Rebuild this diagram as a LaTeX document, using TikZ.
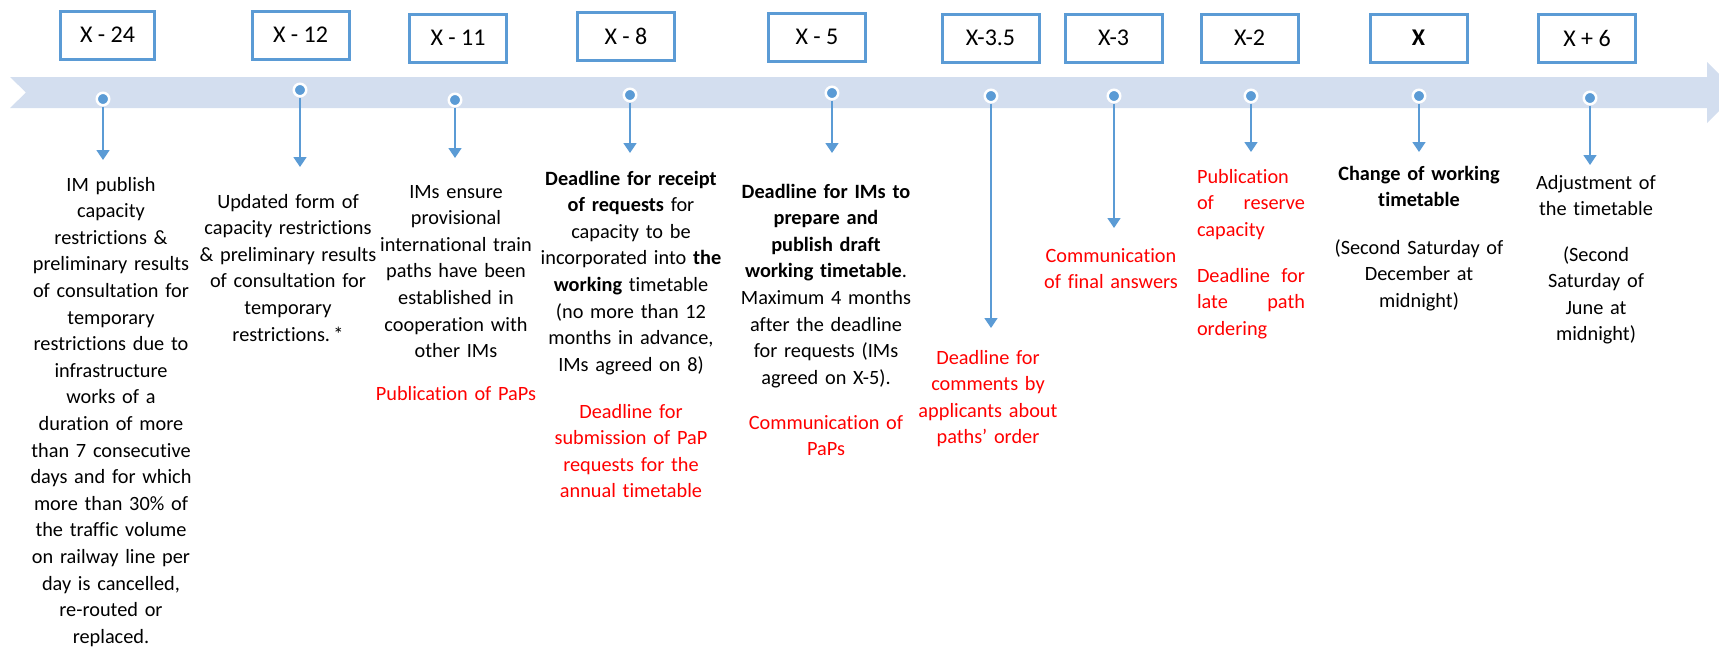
\documentclass[tikz,border=0pt]{standalone}
\usepackage{fontspec}
\setmainfont{Carlito}[Ligatures=NoCommon]
\usetikzlibrary{arrows.meta}
\definecolor{accent}{RGB}{91,155,213}
\definecolor{band}{RGB}{211,222,239}
\definecolor{note}{RGB}{255,0,0}
\begin{document}
\begin{tikzpicture}[x=1pt,y=-1pt,
  stamp/.style={draw=accent,line width=3pt,fill=white,inner sep=0pt,
    minimum width=97pt,minimum height=48pt,font=\fontsize{24}{28}\selectfont},
  pin/.style={circle,fill=accent,draw=white,line width=2.5pt,
    minimum size=12.5pt,inner sep=0pt},
  link/.style={draw=accent,line width=1.6pt,-{Triangle[width=13pt,length=10pt]}},
  body/.style={text width=#1,align=center,inner sep=0pt,anchor=base,
    font=\fontsize{20.3}{26.6}\selectfont},
  body/.default=190pt,
  redbody/.style={body=#1,text=note},
  redbody/.default=190pt]

\useasboundingbox (0,0) rectangle (1719,648);
\clip (0,0) rectangle (1719,648);

% timeline band with notched tail and arrow head
\fill[band] (10,77) -- (1707,77) -- (1707,62) -- (1738,92.5) -- (1707,123)
  -- (1707,108) -- (10,108) -- (26,92.5) -- cycle;

% milestone labels
\node[stamp,minimum width=94pt] (b1) at (107.5,35) {X - 24};
\node[stamp] (b2)  at (300.5,35) {X - 12};
\node[stamp] (b3)  at (458,38)   {X - 11};
\node[stamp] (b4)  at (626,36.5) {X - 8};
\node[stamp] (b5)  at (817,37)   {X - 5};
\node[stamp] (b6)  at (990.5,38) {X-3.5};
\node[stamp] (b7)  at (1113.5,38) {X-3};
\node[stamp] (b8)  at (1249.5,38) {X-2};
\node[stamp] (b9)  at (1418.5,38) {\textbf{X}};
\node[stamp] (b10) at (1587,38)  {X + 6};

% markers on the band
\node[pin] (p1)  at (103,99)  {};
\node[pin] (p2)  at (300,90)  {};
\node[pin] (p3)  at (455,100) {};
\node[pin] (p4)  at (630,95)  {};
\node[pin] (p5)  at (832,93)  {};
\node[pin] (p6)  at (991,96)  {};
\node[pin] (p7)  at (1114,96) {};
\node[pin] (p8)  at (1251,96) {};
\node[pin] (p9)  at (1419,96) {};
\node[pin] (p10) at (1590,98) {};

% arrow ends
\coordinate (t1)  at (103,160);
\coordinate (t2)  at (300,167);
\coordinate (t3)  at (455,158);
\coordinate (t4)  at (630,153);
\coordinate (t5)  at (832,153);
\coordinate (t6)  at (991,328);
\coordinate (t7)  at (1114,228);
\coordinate (t8)  at (1251,152);
\coordinate (t9)  at (1419,152);
\coordinate (t10) at (1590,165);

\foreach \i in {1,...,10} \draw[link] (p\i) -- (t\i);

% descriptions
\node[body] (d1) at (111,191) {IM publish\\ capacity\\ restrictions \&\\
  preliminary results\\ of consultation for\\ temporary\\ restrictions due to\\
  infrastructure\\ works of a\\ duration of more\\ than 7 consecutive\\
  days and for which\\ more than 30\% of\\ the traffic volume\\
  on railway line per\\ day is cancelled,\\ re-routed or\\ replaced.};

\node[body] (d2) at (288,208) {Updated form of\\ capacity restrictions\\
  \& preliminary results\\ of consultation for\\ temporary\\ restrictions.\,*};

\node[body] (d3) at (456,198) {IMs ensure\\ provisional\\ international train\\
  paths have been\\ established in\\ cooperation with\\ other IMs};
\node[redbody] (r3) at (456,400) {Publication of PaPs};

\node[body] (d4) at (631,185) {\textbf{Deadline for receipt}\\
  \textbf{of requests} for\\ capacity to be\\ incorporated into \textbf{the}\\
  \textbf{working} timetable\\ (no more than 12\\ months in advance,\\
  IMs agreed on 8)};
\node[redbody] (r4) at (631,418) {Deadline for\\ submission of PaP\\
  requests for the\\ annual timetable};

\node[body] (d5) at (826,198) {\textbf{Deadline for IMs to}\\ \textbf{prepare and}\\
  \textbf{publish draft}\\ \textbf{working timetable}.\\ Maximum 4 months\\
  after the deadline\\ for requests (IMs\\ agreed on X-5).};
\node[redbody] (r5) at (826,429) {Communication of\\ PaPs};

\node[redbody] (r6) at (988,364) {Deadline for\\ comments by\\
  applicants about\\ paths’ order};

\node[redbody] (r7) at (1111,262) {Communication\\ of final answers};

\node[redbody=108pt,align=left] (r8a) at (1251,183) {Publication\\
  of\hfill reserve\\ capacity};
\node[redbody=108pt,align=left] (r8b) at (1251,282) {Deadline\hfill for\\
  late\hfill path\\ ordering};

\node[body] (d9) at (1419,180) {\textbf{Change of working}\\ \textbf{timetable}};
\node[body] (e9) at (1419,254) {(Second Saturday of\\ December at\\ midnight)};

\node[body] (d10) at (1596,189) {Adjustment of\\ the timetable};
\node[body] (e10) at (1596,261) {(Second\\ Saturday of\\ June at\\ midnight)};
\end{tikzpicture}
\end{document}
